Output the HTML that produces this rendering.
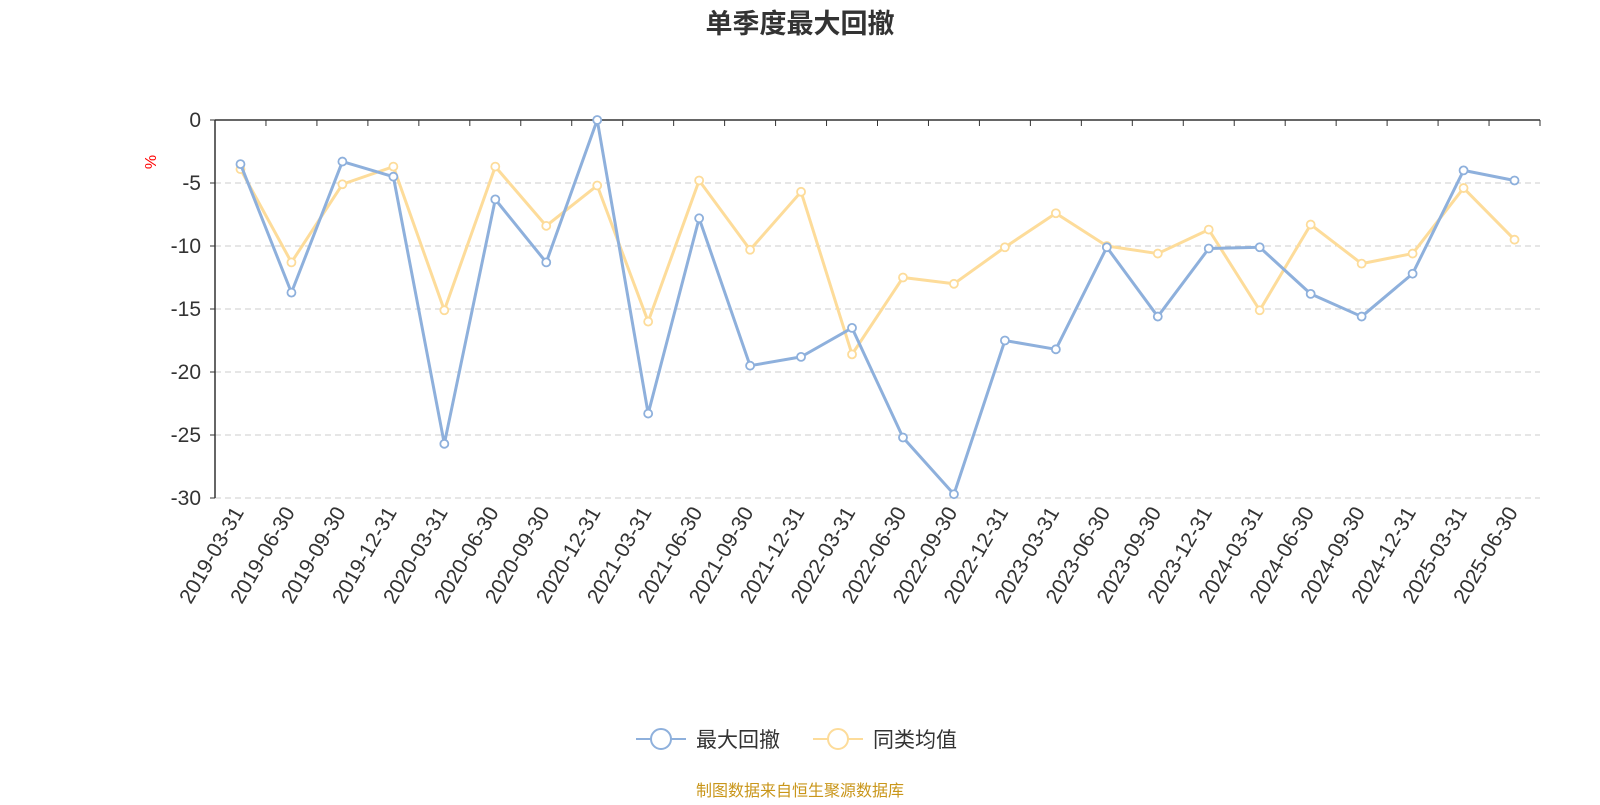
<!DOCTYPE html>
<html><head><meta charset="utf-8"><style>
body{margin:0;background:#fff;width:1600px;height:800px;overflow:hidden;font-family:"Liberation Sans","Noto Sans CJK SC",sans-serif}
</style></head><body>
<svg id="chart" width="1600" height="800" xmlns="http://www.w3.org/2000/svg" style="font-family:'Liberation Sans','Noto Sans CJK SC',sans-serif">
<text x="800" y="33" text-anchor="middle" font-size="27" font-weight="bold" fill="#333">单季度最大回撤</text>
<text x="156" y="162" font-size="16" fill="red" transform="rotate(-90 156 162)" text-anchor="middle">%</text>
<g id="grid"></g><g id="axes"></g><g id="series"></g>
<g>
<g>
<line x1="636" y1="739" x2="686" y2="739" stroke="#8eb0dc" stroke-width="2"/><circle cx="661" cy="739" r="10" fill="#fff" stroke="#8eb0dc" stroke-width="2"/>
<text x="696" y="747" font-size="21" fill="#333">最大回撤</text></g>
<g>
<line x1="813" y1="739" x2="863" y2="739" stroke="#fddc9a" stroke-width="2"/><circle cx="838" cy="739" r="10" fill="#fff" stroke="#fddc9a" stroke-width="2"/>
<text x="873" y="747" font-size="21" fill="#333">同类均值</text></g>
</g>
<text x="800" y="796" text-anchor="middle" font-size="16" fill="#c9961a">制图数据来自恒生聚源数据库</text>
</svg>
<script>
const categories=["2019-03-31","2019-06-30","2019-09-30","2019-12-31","2020-03-31","2020-06-30","2020-09-30","2020-12-31","2021-03-31","2021-06-30","2021-09-30","2021-12-31","2022-03-31","2022-06-30","2022-09-30","2022-12-31","2023-03-31","2023-06-30","2023-09-30","2023-12-31","2024-03-31","2024-06-30","2024-09-30","2024-12-31","2025-03-31","2025-06-30"];
const maxDrawdown=[-3.5,-13.7,-3.3,-4.5,-25.7,-6.3,-11.3,0,-23.3,-7.8,-19.5,-18.8,-16.5,-25.2,-29.7,-17.5,-18.2,-10.1,-15.6,-10.2,-10.1,-13.8,-15.6,-12.2,-4.0,-4.8];
const peerAverage=[-3.9,-11.3,-5.1,-3.7,-15.1,-3.7,-8.4,-5.2,-16.0,-4.8,-10.3,-5.7,-18.6,-12.5,-13.0,-10.1,-7.4,-10.0,-10.6,-8.7,-15.1,-8.3,-11.4,-10.6,-5.4,-9.5];
const yTicks=[0,-5,-10,-15,-20,-25,-30];
const NS="http://www.w3.org/2000/svg";
const x0=215,x1=1540,yTop=120,yBot=498;
const bw=(x1-x0)/categories.length;
const xs=i=>x0+bw*(i+0.5);
const ys=v=>yTop+(0-v)/30*(yBot-yTop);
function mk(tag,attrs,parent){const e=document.createElementNS(NS,tag);for(const k in attrs)e.setAttribute(k,attrs[k]);parent.appendChild(e);return e;}
const grid=document.getElementById('grid'),axes=document.getElementById('axes'),series=document.getElementById('series');
yTicks.forEach(t=>{
  if(t!==0){const l=mk('line',{x1:x0,x2:x1,y1:ys(t),y2:ys(t),stroke:'#ccc','stroke-dasharray':'6,4'},grid);
  
  }
  const tx=mk('text',{x:x0-14,y:ys(t)+7,'text-anchor':'end','font-size':21,fill:'#333'},axes);
  tx.textContent=t;
  
  
  mk('line',{x1:x0-5,x2:x0,y1:ys(t),y2:ys(t),stroke:'#333'},axes);
});
const ya=mk('line',{x1:x0,x2:x0,y1:yTop,y2:yBot,stroke:'#333','stroke-width':1.5},axes);


const xa=mk('line',{x1:x0,x2:x1,y1:yTop,y2:yTop,stroke:'#333','stroke-width':1.5},axes);


for(let i=0;i<=categories.length;i++){mk('line',{x1:x0+bw*i,x2:x0+bw*i,y1:yTop,y2:yTop+6,stroke:'#333'},axes);}
categories.forEach((c,i)=>{
  const x=xs(i)+4,y=yBot+14;
  const t=mk('text',{x:x,y:y,'text-anchor':'end','font-size':21,fill:'#333',transform:`rotate(-60 ${x} ${y})`},axes);
  t.textContent=c;
  
  
});
function drawSeries(vals,color,name){
  const g=mk('g',{},series);
  
  
  mk('polyline',{points:vals.map((v,i)=>xs(i)+','+ys(v)).join(' '),fill:'none',stroke:color,'stroke-width':3,'stroke-linejoin':'round'},g);
  vals.forEach((v,i)=>{const c=mk('circle',{cx:xs(i),cy:ys(v),r:4,fill:'#fff',stroke:color,'stroke-width':1.8},g);
  
  });
}
drawSeries(peerAverage,'#fddc9a','peer-average-line');
drawSeries(maxDrawdown,'#8eb0dc','max-drawdown-line');
</script>
</body></html>
